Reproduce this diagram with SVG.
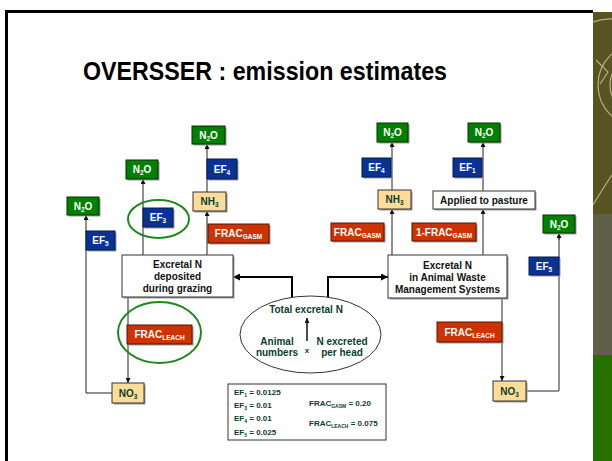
<svg xmlns="http://www.w3.org/2000/svg" width="612" height="461" viewBox="0 0 612 461">
<defs>
<style>
text{font-family:"Liberation Sans",Arial,sans-serif;font-weight:bold;}
.lbl{font-size:10px;fill:#ffffff;text-anchor:middle;}
.dk{font-size:10px;fill:#0a3d2f;text-anchor:middle;}
.bk{font-size:10px;fill:#111111;text-anchor:middle;}
.lg{font-size:8px;fill:#0a3d2f;}
.g{fill:#008000;stroke:#003300;stroke-width:1;}
.b{fill:#0a3296;stroke:#001a4d;stroke-width:1;}
.r{fill:#cc3300;stroke:#5a1500;stroke-width:1;}
.y{fill:#ffdd99;stroke:#333333;stroke-width:1;}
.w{fill:#ffffff;stroke:#333333;stroke-width:1;}
.sh{fill:#9a9a9a;}
.ln{fill:none;stroke:#222222;stroke-width:1;}
.lg2{fill:none;stroke:#777777;stroke-width:1.6;}
.th{fill:none;stroke:#000000;stroke-width:2;}
.ring{fill:none;stroke:#1a8a1a;stroke-width:2;}
</style>
<marker id="ah" viewBox="0 0 10 10" refX="10" refY="5" markerWidth="5" markerHeight="5" markerUnits="userSpaceOnUse" orient="auto">
<path d="M0,0 L10,5 L0,10 z" fill="#111111"/>
</marker>
<marker id="ah2" viewBox="0 0 10 10" refX="10" refY="5" markerWidth="7" markerHeight="7" markerUnits="userSpaceOnUse" orient="auto">
<path d="M0,0 L10,5 L0,10 z" fill="#000000"/>
</marker>
<clipPath id="strip"><rect x="593" y="12" width="19" height="202"/></clipPath>
</defs>
<rect x="0" y="0" width="612" height="461" fill="#ffffff"/>
<!-- slide frame -->
<g id="frame">
<rect x="593" y="12" width="19" height="202" fill="#575323"/>
<g clip-path="url(#strip)" fill="none" stroke="#b8b080" stroke-width="1.2">
<circle cx="640" cy="85" r="42"/>
<circle cx="640" cy="85" r="30"/>
<path d="M593,22 Q615,14 640,26"/>
<path d="M596,60 L608,72 L600,84"/>
<path d="M593,205 Q605,185 612,175"/>
</g>
<rect x="593" y="214" width="19" height="141" fill="#5f5f4a"/>
<rect x="593" y="355" width="19" height="106" fill="#267000"/>
<rect x="5" y="10" width="588" height="3" fill="#000000"/>
<rect x="5" y="10" width="3" height="451" fill="#000000"/>
</g>
<text x="83" y="80" textLength="364" lengthAdjust="spacingAndGlyphs" style="font-size:25px;fill:#000000">OVERSSER : emission estimates</text>

<!-- connectors -->
<g id="connectors">
<path class="ln" d="M112,393 H86 V215" marker-end="url(#ah)"/>
<path class="ln" d="M143,255 V179" marker-end="url(#ah)"/>
<path class="ln" d="M207,255 V211" marker-end="url(#ah)"/>
<path class="ln" d="M207,192 V144" marker-end="url(#ah)"/>
<path class="ln" d="M128,297 V383" marker-end="url(#ah)"/>
<path class="ln" d="M392,255 V209" marker-end="url(#ah)"/>
<path class="ln" d="M392,190 V142" marker-end="url(#ah)"/>
<path class="ln" d="M483,255 V209" marker-end="url(#ah)"/>
<path class="ln" d="M483,191 V142" marker-end="url(#ah)"/>
<path class="lg2" d="M502,298 V378"/>
<path class="ln" d="M502,376 V381" marker-end="url(#ah)"/>
<path class="ln" d="M526,391 H559"/>
<path class="lg2" d="M559,391 V236"/>
<path class="ln" d="M559,240 V233" marker-end="url(#ah)"/>
<path class="th" d="M292,297 V277 H233" marker-end="url(#ah2)"/>
<path class="th" d="M328,297 V277 H388" marker-end="url(#ah2)"/>
</g>

<!-- left side -->
<g id="n2o_l1"><rect class="sh" x="68.5" y="198.5" width="32" height="18"/><rect class="g" x="67" y="197" width="32" height="18"/><text class="lbl" x="83" y="209.5">N<tspan font-size="6.5" dy="2">2</tspan><tspan dy="-2">O</tspan></text></g>
<g id="ef5_l"><rect class="sh" x="87.5" y="232.5" width="29" height="19"/><rect class="b" x="86" y="231" width="29" height="19"/><text class="lbl" x="100.5" y="244">EF<tspan font-size="6.5" dy="2">5</tspan></text></g>
<g id="n2o_l2"><rect class="sh" x="127.5" y="161.5" width="32" height="19"/><rect class="g" x="126" y="160" width="32" height="19"/><text class="lbl" x="142" y="173">N<tspan font-size="6.5" dy="2">2</tspan><tspan dy="-2">O</tspan></text></g>
<g id="ef3"><rect class="sh" x="144.5" y="209.5" width="30" height="19"/><rect class="b" x="143" y="208" width="30" height="19"/><text class="lbl" x="158" y="221">EF<tspan font-size="6.5" dy="2">3</tspan></text></g>
<g id="ring_ef3"><ellipse class="ring" cx="158.5" cy="219" rx="30.5" ry="19"/></g>
<g id="n2o_l3"><rect class="sh" x="193.5" y="127.5" width="33" height="18"/><rect class="g" x="192" y="126" width="33" height="18"/><text class="lbl" x="208.5" y="138.5">N<tspan font-size="6.5" dy="2">2</tspan><tspan dy="-2">O</tspan></text></g>
<g id="ef4_l"><rect class="sh" x="208.5" y="160.5" width="30" height="20"/><rect class="b" x="207" y="159" width="30" height="20"/><text class="lbl" x="222" y="172.5">EF<tspan font-size="6.5" dy="2">4</tspan></text></g>
<g id="nh3_l"><rect class="sh" x="194.5" y="193.5" width="33" height="19"/><rect class="y" x="193" y="192" width="33" height="19"/><text class="dk" x="209.5" y="205">NH<tspan font-size="6.5" dy="2">3</tspan></text></g>
<g id="fracgasm_l"><rect class="sh" x="209.5" y="225.5" width="61" height="19"/><rect class="r" x="208" y="224" width="61" height="19"/><text class="lbl" x="238.5" y="237">FRAC<tspan font-size="6.5" dy="2">GASM</tspan></text></g>
<g id="grazing"><rect class="sh" x="123.5" y="256.5" width="111" height="42"/><rect class="w" x="122" y="255" width="111" height="42"/>
<text class="bk" x="177.5" y="268">Excretal N</text><text class="bk" x="177.5" y="280">deposited</text><text class="bk" x="177.5" y="292">during grazing</text></g>
<g id="fracleach_l"><rect class="sh" x="128.5" y="326.5" width="65" height="19"/><rect class="r" x="127" y="325" width="65" height="19"/><text class="lbl" x="159.5" y="338">FRAC<tspan font-size="6.5" dy="2">LEACH</tspan></text></g>
<g id="ring_leach"><ellipse class="ring" cx="159.5" cy="332.5" rx="41.5" ry="30.5"/></g>
<g id="no3_l"><rect class="sh" x="113.5" y="384.5" width="32" height="20"/><rect class="y" x="112" y="383" width="32" height="20"/><text class="dk" x="128" y="396.5">NO<tspan font-size="6.5" dy="2">3</tspan></text></g>

<!-- centre -->
<g id="total">
<ellipse cx="310.5" cy="334.5" rx="70.5" ry="38.5" fill="#ffffff" stroke="#333333" stroke-width="1"/>
<text class="dk" x="306" y="313">Total excretal N</text>
<path d="M307,341 V318" fill="none" stroke="#111111" stroke-width="1.5" marker-end="url(#ah)"/>
<text class="dk" x="277" y="345">Animal</text><text class="dk" x="277" y="356">numbers</text>
<text class="dk" x="307" y="353" style="font-size:8px">x</text>
<text class="dk" x="342" y="345">N excreted</text><text class="dk" x="342" y="356">per head</text>
</g>
<g id="legend">
<rect x="228" y="384" width="158" height="56" fill="#ffffff" stroke="#333333" stroke-width="1"/>
<text class="lg" x="234" y="395">EF<tspan font-size="5" dy="1.5">1</tspan><tspan dy="-1.5"> = 0.0125</tspan></text>
<text class="lg" x="234" y="408">EF<tspan font-size="5" dy="1.5">3</tspan><tspan dy="-1.5"> = 0.01</tspan></text>
<text class="lg" x="234" y="421">EF<tspan font-size="5" dy="1.5">4</tspan><tspan dy="-1.5"> = 0.01</tspan></text>
<text class="lg" x="234" y="435">EF<tspan font-size="5" dy="1.5">5</tspan><tspan dy="-1.5"> = 0.025</tspan></text>
<text class="lg" x="309" y="406">FRAC<tspan font-size="5" dy="1.5">GASM</tspan><tspan dy="-1.5"> = 0.20</tspan></text>
<text class="lg" x="309" y="426">FRAC<tspan font-size="5" dy="1.5">LEACH</tspan><tspan dy="-1.5"> = 0.075</tspan></text>
</g>

<!-- right side -->
<g id="n2o_r1"><rect class="sh" x="378.5" y="124.5" width="31" height="19"/><rect class="g" x="377" y="123" width="31" height="19"/><text class="lbl" x="392.5" y="136">N<tspan font-size="6.5" dy="2">2</tspan><tspan dy="-2">O</tspan></text></g>
<g id="ef4_r"><rect class="sh" x="363.5" y="159.5" width="29" height="19"/><rect class="b" x="362" y="158" width="29" height="19"/><text class="lbl" x="376.5" y="171">EF<tspan font-size="6.5" dy="2">4</tspan></text></g>
<g id="nh3_r"><rect class="sh" x="379.5" y="191.5" width="33" height="19"/><rect class="y" x="378" y="190" width="33" height="19"/><text class="dk" x="394.5" y="203">NH<tspan font-size="6.5" dy="2">3</tspan></text></g>
<g id="fracgasm_r"><rect class="sh" x="332.5" y="224.5" width="53" height="18"/><rect class="r" x="331" y="223" width="53" height="18"/><text class="lbl" x="357.5" y="235.5">FRAC<tspan font-size="6.5" dy="2">GASM</tspan></text></g>
<g id="n2o_r2"><rect class="sh" x="469.5" y="124.5" width="32" height="19"/><rect class="g" x="468" y="123" width="32" height="19"/><text class="lbl" x="484" y="136">N<tspan font-size="6.5" dy="2">2</tspan><tspan dy="-2">O</tspan></text></g>
<g id="ef1"><rect class="sh" x="454.5" y="159.5" width="29" height="19"/><rect class="b" x="453" y="158" width="29" height="19"/><text class="lbl" x="467.5" y="171">EF<tspan font-size="6.5" dy="2">1</tspan></text></g>
<g id="pasture"><rect class="sh" x="434.5" y="192.5" width="102" height="18"/><rect class="w" x="433" y="191" width="102" height="18"/><text class="bk" x="484" y="203.5">Applied to pasture</text></g>
<g id="onefrac"><rect class="sh" x="413.5" y="224.5" width="64" height="18"/><rect class="r" x="412" y="223" width="64" height="18"/><text class="lbl" x="444" y="235.5">1-FRAC<tspan font-size="6.5" dy="2">GASM</tspan></text></g>
<g id="n2o_r3"><rect class="sh" x="544.5" y="216.5" width="32" height="18"/><rect class="g" x="543" y="215" width="32" height="18"/><text class="lbl" x="559" y="227.5">N<tspan font-size="6.5" dy="2">2</tspan><tspan dy="-2">O</tspan></text></g>
<g id="ef5_r"><rect class="sh" x="530.5" y="258.5" width="30" height="18"/><rect class="b" x="529" y="257" width="30" height="18"/><text class="lbl" x="544" y="269.5">EF<tspan font-size="6.5" dy="2">5</tspan></text></g>
<g id="awms"><rect class="sh" x="389.5" y="256.5" width="119" height="43"/><rect class="w" x="388" y="255" width="119" height="43"/>
<text class="bk" x="447.5" y="269">Excretal N</text><text class="bk" x="447.5" y="281">in Animal Waste</text><text class="bk" x="447.5" y="293">Management Systems</text></g>
<g id="fracleach_r"><rect class="sh" x="438.5" y="323.5" width="65" height="20"/><rect class="r" x="437" y="322" width="65" height="20"/><text class="lbl" x="469.5" y="335.5">FRAC<tspan font-size="6.5" dy="2">LEACH</tspan></text></g>
<g id="no3_r"><rect class="sh" x="494.5" y="382.5" width="33" height="20"/><rect class="y" x="493" y="381" width="33" height="20"/><text class="dk" x="509.5" y="394.5">NO<tspan font-size="6.5" dy="2">3</tspan></text></g>
</svg>
